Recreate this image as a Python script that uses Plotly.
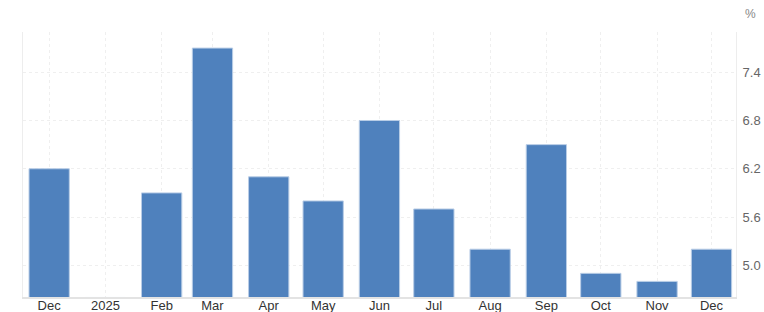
import plotly.graph_objects as go

months = ["2024-12-01", "2025-01-01", "2025-02-01", "2025-03-01", "2025-04-01",
          "2025-05-01", "2025-06-01", "2025-07-01", "2025-08-01", "2025-09-01",
          "2025-10-01", "2025-11-01", "2025-12-01"]
tick_labels = ["Dec", "2025", "Feb", "Mar", "Apr", "May", "Jun", "Jul", "Aug",
               "Sep", "Oct", "Nov", "Dec"]
values = [6.2, 4.6, 5.9, 7.7, 6.1, 5.8, 6.8, 5.7, 5.2, 6.5, 4.9, 4.8, 5.2]
y_ticks = [5.0, 5.6, 6.2, 6.8, 7.4]

fig = go.Figure()
fig.add_trace(go.Bar(
    x=months, y=values,
    width=22.2 * 86400000,
    marker=dict(color="#4f81bd", line=dict(color="#b9cde6", width=1)),
))

fig.update_layout(
    width=764, height=312,
    margin=dict(l=23, r=28, t=32, b=15),
    paper_bgcolor="white", plot_bgcolor="white",
    showlegend=False,
    font=dict(family="Liberation Sans, Arial, sans-serif", size=13, color="#333333"),
    xaxis=dict(
        type="date",
        range=["2024-11-16 14:00", "2025-12-14 12:00"],
        tickvals=months, ticktext=tick_labels,
        showgrid=True, gridcolor="#efefef", griddash="dot", gridwidth=1,
        showline=True, linecolor="#e3e3e3", linewidth=2, mirror=False,
        ticks="", automargin=False, ticklabelstandoff=-5,
        tickfont=dict(size=13, color="#333333"),
        fixedrange=True,
    ),
    yaxis=dict(
        side="right",
        range=[4.606, 7.9],
        tickvals=y_ticks, ticktext=[f"{v:.1f}" for v in y_ticks],
        showgrid=True, gridcolor="#efefef", griddash="dot", gridwidth=1,
        showline=True, linecolor="#ededed", linewidth=1, mirror=True,
        ticks="outside", ticklen=3, tickcolor="rgba(0,0,0,0)",
        zeroline=False, automargin=False,
        tickfont=dict(size=13, color="#666666"),
        fixedrange=True,
    ),
    annotations=[dict(text="%", x=750, y=14, xref="paper", yref="paper",
                      showarrow=False, font=dict(size=12, color="#888888"))],
)
fig.layout.annotations[0].update(x=(750 - 23) / (764 - 23 - 28), y=(312 - 15 - 14) / (312 - 32 - 15),
                                 xanchor="center", yanchor="middle")

fig.write_html("out.html")
